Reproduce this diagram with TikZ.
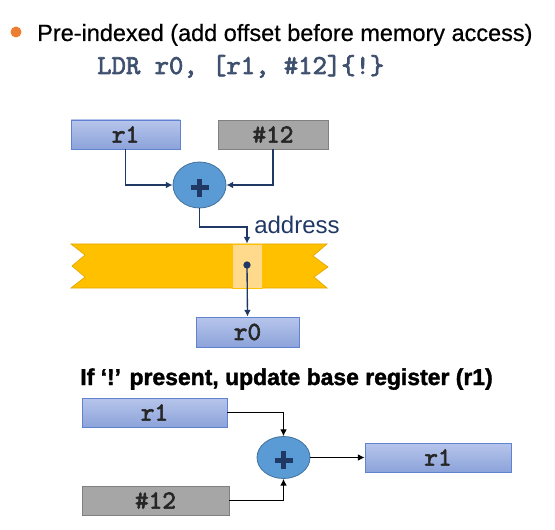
\documentclass[tikz,border=0pt]{standalone}
\usepackage{fontspec}
\setmainfont{Liberation Sans}
\newfontfamily\regfont[FakeBold=2.5]{lmmono10-regular.otf}
\newfontfamily\heavyfont[Ligatures=TeX, BoldFeatures={FakeBold=1.6}]{Liberation Sans}
\newfontfamily\titlefont[Ligatures=TeX, FakeBold=0.6]{Liberation Sans}
\usepackage{xcolor}
\usetikzlibrary{arrows.meta}
\usetikzlibrary{shapes.geometric}
\definecolor{regtop}{RGB}{182,197,235}
\definecolor{regbot}{RGB}{140,163,218}
\definecolor{regedge}{RGB}{96,130,208}
\definecolor{immgray}{RGB}{166,166,166}
\definecolor{immedge}{RGB}{128,128,128}
\definecolor{sumblue}{RGB}{91,155,213}
\definecolor{sumedge}{RGB}{65,113,156}
\definecolor{navy}{RGB}{31,56,100}
\definecolor{codeslate}{RGB}{62,80,110}
\definecolor{memyellow}{RGB}{255,192,0}
\definecolor{memedge}{RGB}{226,168,0}
\definecolor{cellyellow}{RGB}{255,218,140}
\definecolor{bulletorange}{RGB}{237,125,49}

\tikzset{
regbox/.style={draw=regedge, line width=0.6pt, top color=regtop, bottom color=regbot,
  minimum height=21.75pt, inner sep=0pt, text=black!85,
  font=\regfont\fontsize{19.5}{20}\selectfont},
immbox/.style={draw=immedge, line width=0.6pt, fill=immgray,
  minimum height=21.75pt, inner sep=0pt, text=black!85,
  font=\regfont\fontsize{19.5}{20}\selectfont},
sumnode/.style={ellipse, draw=sumedge, line width=0.6pt, fill=sumblue,
  minimum width=39.75pt, minimum height=34.5pt, inner sep=0pt,
  path picture={\draw[navy, line width=3.6pt]
    ([yshift=-2pt]path picture bounding box.center) +(-6.75pt,0) -- +(6.75pt,0)
    +(0,-6.75pt) -- +(0,6.75pt);}},
navyarrow/.style={draw=navy, line width=1pt, -{Latex[length=5pt,width=5pt]}},
blackarrow/.style={draw=black, line width=0.75pt, -{Latex[length=5pt,width=5pt]}},
}

\begin{document}
\begin{tikzpicture}[x=0.75pt, y=-0.75pt]
\useasboundingbox (0,0) rectangle (555,530);

%heading and instruction
\fill[bulletorange] (16,32) circle (5.5);
\node[anchor=base west, inner sep=0pt, font=\titlefont\fontsize{17.6}{18}\selectfont] (title) at (37,41)
  {Pre-indexed (add offset before memory access)};
\node[anchor=base west, inner sep=0pt, text=codeslate, font=\regfont\fontsize{20.5}{21}\selectfont] (instr) at (97,74)
  {LDR r0, [r1, \#12]\{!\}};

%operands and adder
\node[regbox, minimum width=81.75pt] (base) at (125.5,134.5) {r1};
\node[immbox, minimum width=82.5pt] (offset) at (273,134.5) {\#12};
\node[sumnode] (sum) at (199.5,185) {};
\draw[navyarrow] (base.south) |- (sum.west);
\draw[navyarrow] (offset.south) |- (sum.east);

%memory strip
\fill[memyellow, draw=memedge, line width=0.5pt] (71,244) -- (327,244) -- (313,256) -- (328,267)
  -- (314,277) -- (327,288) -- (71,288) -- (85,277) -- (72,266) -- (85,255) -- cycle;
\node[draw=memyellow, line width=0.6pt, fill=cellyellow, minimum width=22.5pt, minimum height=33pt,
  inner sep=0pt] (cell) at (247,266) {};
\node[circle, fill=navy, inner sep=0pt, minimum size=5.5pt] (dot) at (247,265) {};

%address path and load
\coordinate (bend) at (247,227);
\draw[navyarrow] (sum.south) |- (bend) -- (cell.north);
\node[anchor=base west, inner sep=0pt, text=navy, font=\fontsize{18}{18}\selectfont] (addr) at (254,234) {address};
\node[regbox, minimum width=77.25pt, minimum height=22.5pt] (dest) at (247.5,332) {r0};
\draw[navyarrow] (dot.center) -- (dest.north);

%write-back
\node[anchor=base west, inner sep=0pt, font=\heavyfont\bfseries\fontsize{17.2}{18}\selectfont] (wb) at (80,385)
  {If ‘!’ present, update base register (r1)};
\node[regbox, minimum width=108.75pt] (oldbase) at (154.5,412.5) {r1};
\node[immbox, minimum width=110.25pt] (imm) at (155.5,500.5) {\#12};
\node[sumnode, minimum height=31.5pt] (wbsum) at (283.5,457.5) {};
\node[regbox, minimum width=109.5pt] (newbase) at (438,457.5) {r1};
\draw[blackarrow] (oldbase.east) -| (wbsum.north);
\draw[blackarrow] (imm.east) -| (wbsum.south);
\draw[blackarrow] (wbsum.east) -- (newbase.west);
\end{tikzpicture}
\end{document}
